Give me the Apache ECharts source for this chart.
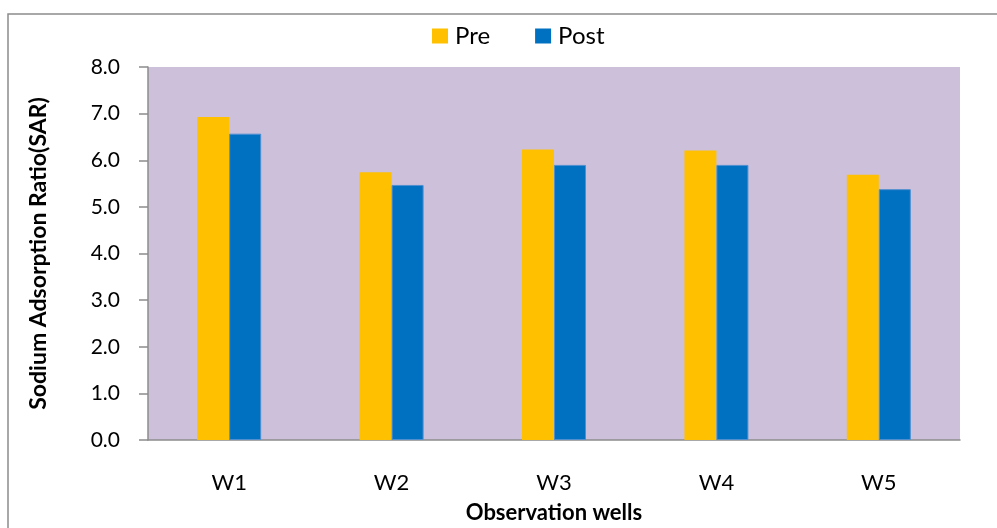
<!DOCTYPE html>
<html>
<head>
<meta charset="utf-8">
<script src="https://cdn.jsdelivr.net/npm/echarts@6/dist/echarts.min.js"></script>
<style>
  html, body { margin: 0; padding: 0; background: #fff; }
  #chart { width: 997px; height: 528px; }
</style>
</head>
<body>
<div id="chart"></div>
<script>
// Sodium Adsorption Ratio per observation well, before and after
const wells = ['W1', 'W2', 'W3', 'W4', 'W5'];
const preValues = [6.93, 5.74, 6.23, 6.21, 5.69];
const postValues = [6.57, 5.47, 5.90, 5.90, 5.38];
const seriesNames = ['Pre', 'Post'];
const yTicks = { min: 0, max: 8, interval: 1 };

const FONT = 'Lato';
const chart = echarts.init(document.getElementById('chart'), null, { renderer: 'canvas' });

chart.setOption({
  animation: false,
  backgroundColor: '#ffffff',
  textStyle: { fontFamily: FONT },
  graphic: [{
    type: 'rect',
    shape: { x: 8, y: 14, width: 1000, height: 530 },
    style: { fill: 'none', stroke: '#8c8c8c', lineWidth: 1.5 },
    silent: true
  }],
  legend: {
    top: 24,
    left: 432,
    padding: 0,
    itemWidth: 16,
    itemHeight: 15,
    itemGap: 45,
    icon: 'rect',
    itemStyle: { borderWidth: 0 },
    textStyle: { fontFamily: FONT, fontSize: 24, color: '#000', padding: [0, 0, 0, 2] },
    data: seriesNames
  },
  grid: {
    left: 148, right: 37, top: 67, bottom: 88,
    outerBoundsMode: 'none',
    show: true,
    backgroundColor: '#CCC0DA',
    borderWidth: 0
  },
  xAxis: {
    type: 'category',
    data: wells,
    name: 'Observation wells',
    nameLocation: 'middle',
    nameGap: 62,
    nameTextStyle: { fontFamily: FONT, fontSize: 22, fontWeight: 'bold', color: '#000' },
    axisLine: { lineStyle: { color: '#8c8c8c', width: 1.5 } },
    axisTick: { show: false },
    axisLabel: { fontFamily: FONT, fontSize: 22, color: '#000', margin: 32 }
  },
  yAxis: {
    type: 'value',
    min: yTicks.min,
    max: yTicks.max,
    interval: yTicks.interval,
    name: 'Sodium Adsorption Ratio(SAR)',
    nameLocation: 'middle',
    nameGap: 98,
    nameTextStyle: { fontFamily: FONT, fontSize: 23, fontWeight: 'bold', color: '#000' },
    axisLine: { show: true, lineStyle: { color: '#8c8c8c', width: 1.5 } },
    axisTick: { show: true, length: 9, lineStyle: { color: '#8c8c8c', width: 1.5 } },
    splitLine: { show: false },
    axisLabel: {
      fontFamily: FONT, fontSize: 21, color: '#000', margin: 28,
      formatter: v => v.toFixed(1)
    }
  },
  series: [
    {
      name: seriesNames[0],
      type: 'bar',
      data: preValues,
      barWidth: 32,
      barGap: '0%',
      itemStyle: { color: '#FFC000' }
    },
    {
      name: seriesNames[1],
      type: 'bar',
      data: postValues,
      barWidth: 32,
      barGap: '0%',
      itemStyle: { color: '#0070C0', borderColor: '#4F8FD0', borderWidth: 1 }
    }
  ]
});
</script>
</body>
</html>
